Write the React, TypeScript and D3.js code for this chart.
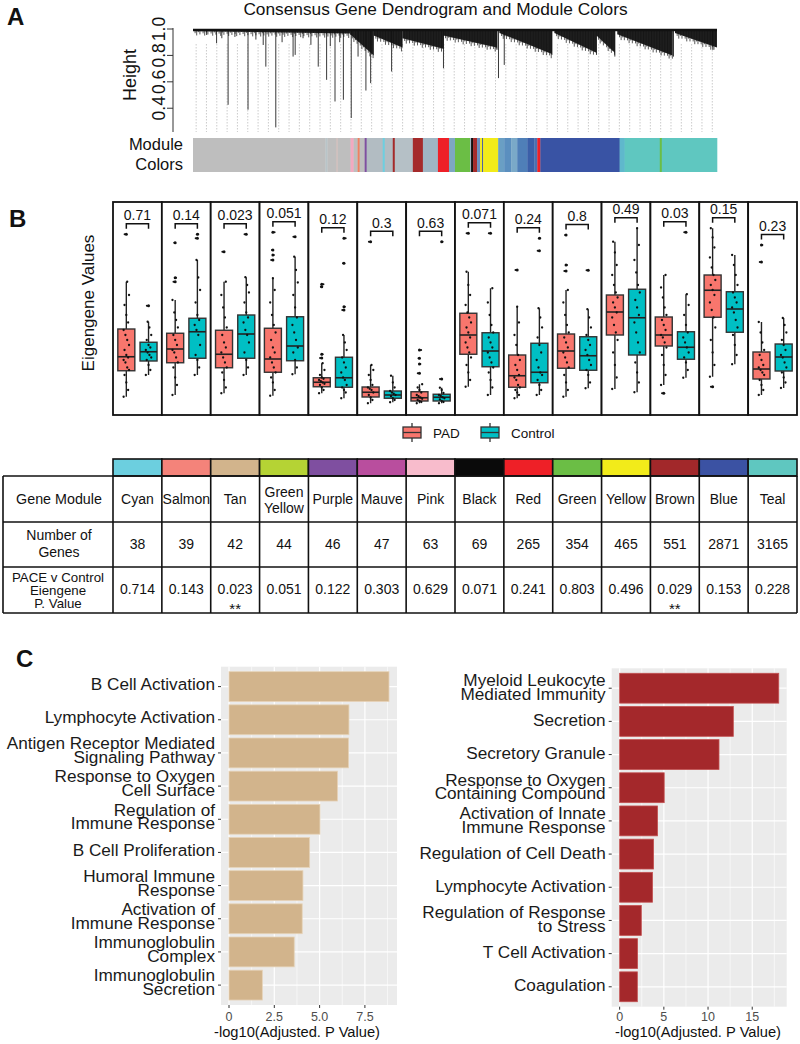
import React from "react";
import * as d3 from "d3";

const FONT = "'Liberation Sans', Arial, Helvetica, sans-serif";

// ---------------- Panel A data ----------------
const heightTicks = [0.4, 0.6, 0.8, 1.0];
// [leaf position in gene order (0..1), merge height]
const dendroDrops: [number, number][] = [
  [0.026, 0.955], [0.045, 0.892], [0.055, 0.93], [0.067, 0.426], [0.08, 0.94], [0.105, 0.389],
  [0.12, 0.92], [0.134, 0.879], [0.139, 0.715], [0.158, 0.255], [0.17, 0.9], [0.191, 0.791],
  [0.195, 0.804], [0.21, 0.93], [0.225, 0.88], [0.239, 0.715], [0.255, 0.615], [0.262, 0.87],
  [0.271, 0.451], [0.28, 0.9], [0.287, 0.464], [0.302, 0.326], [0.315, 0.791], [0.33, 0.534],
  [0.339, 0.59], [0.379, 0.678], [0.478, 0.703], [0.58, 0.842], [0.583, 0.628], [0.594, 0.728],
  [0.685, 0.804], [0.77, 0.804], [0.805, 0.791], [0.917, 0.791], [0.992, 0.842],
];
// dense sub-clusters: [start, end, height at start, height at end]
const dendroClusters: [number, number, number, number][] = [
  [0.0, 0.3, 0.985, 0.965],
  [0.3, 0.345, 0.96, 0.8],
  [0.345, 0.4, 0.95, 0.86],
  [0.4, 0.478, 0.93, 0.85],
  [0.478, 0.58, 0.95, 0.86],
  [0.585, 0.685, 0.97, 0.81],
  [0.69, 0.77, 0.97, 0.82],
  [0.77, 0.805, 0.95, 0.82],
  [0.81, 0.915, 0.96, 0.8],
  [0.92, 1.0, 0.97, 0.86],
];
// module colour strip along gene order: [colour, gene-order units]
const moduleStrip: [string, number][] = [
  ["#bebebe", 132], ["#b8c4c8", 2], ["#bebebe", 9], ["#d6b9b5", 1], ["#bebebe", 13],
  ["#f4a9c0", 3], ["#bebebe", 4], ["#f08060", 2], ["#bebebe", 5], ["#7f4fa0", 2],
  ["#b2bcc2", 16], ["#6dcfe0", 2], ["#b2bcc2", 8], ["#a52a2a", 2], ["#b5c0c6", 18],
  ["#a52a2a", 10], ["#9fb5c3", 15], ["#ee2027", 11], ["#7ea7c2", 6], ["#6bbe45", 15],
  ["#9fb5c3", 1], ["#111111", 2], ["#a52a2a", 4], ["#6a8fbf", 3], ["#f2eb1a", 2],
  ["#3b52a3", 1], ["#f2eb1a", 15], ["#6a9fc4", 6], ["#5b8fbf", 7], ["#7aa9c8", 6],
  ["#4f7fb8", 10], ["#3b5fa8", 7], ["#4a70b0", 3], ["#ee2027", 3], ["#3953a4", 79],
  ["#5fb8cc", 5], ["#5fc7c0", 35], ["#6bbe45", 2], ["#5fc7c0", 55],
];

// ---------------- Panel B / table data ----------------
const modules = ["Cyan", "Salmon", "Tan", "Green\nYellow", "Purple", "Mauve", "Pink", "Black", "Red", "Green", "Yellow", "Brown", "Blue", "Teal"];
const moduleColors = ["#6ccfdf", "#f4837a", "#d2b48c", "#b5d334", "#7f4fa0", "#b94e9e", "#f8bccc", "#0a0a0a", "#ee2027", "#6bbe45", "#f2eb1a", "#a2282a", "#3b52a3", "#5fc7c0"];
const geneCounts = [38, 39, 42, 44, 46, 47, 63, 69, 265, 354, 465, 551, 2871, 3165];
const tablePValues = ["0.714", "0.143", "0.023", "0.051", "0.122", "0.303", "0.629", "0.071", "0.241", "0.803", "0.496", "0.029", "0.153", "0.228"];
const significant = [false, false, true, false, false, false, false, false, false, false, false, true, false, false];
const bracketLabels = ["0.71", "0.14", "0.023", "0.051", "0.12", "0.3", "0.63", "0.071", "0.24", "0.8", "0.49", "0.03", "0.15", "0.23"];
const groups = ["PAD", "Control"];
const groupColors = ["#f8766d", "#00bfc4"];

// [lower whisker, Q1, median, Q3, upper whisker]
const padStats = [
  [-0.027, 0.077, 0.133, 0.244, 0.433],
  [-0.02, 0.109, 0.164, 0.227, 0.36],
  [-0.013, 0.089, 0.143, 0.239, 0.433],
  [-0.023, 0.071, 0.124, 0.247, 0.447],
  [-0.013, 0.013, 0.031, 0.049, 0.107],
  [-0.053, -0.028, -0.009, 0.012, 0.1],
  [-0.053, -0.044, -0.031, -0.007, 0.023],
  [0.013, 0.143, 0.22, 0.307, 0.473],
  [-0.033, 0.011, 0.057, 0.14, 0.333],
  [-0.027, 0.087, 0.156, 0.224, 0.4],
  [0.004, 0.22, 0.312, 0.38, 0.593],
  [0.02, 0.176, 0.22, 0.292, 0.46],
  [0.053, 0.291, 0.399, 0.46, 0.647],
  [-0.02, 0.044, 0.084, 0.152, 0.272],
];
const ctrlStats = [
  [0.06, 0.116, 0.153, 0.191, 0.273],
  [0.06, 0.127, 0.233, 0.287, 0.52],
  [0.06, 0.127, 0.224, 0.3, 0.451],
  [0.063, 0.117, 0.176, 0.293, 0.533],
  [-0.033, 0.011, 0.049, 0.131, 0.22],
  [-0.049, -0.033, -0.02, -0.004, 0.057],
  [-0.053, -0.044, -0.029, -0.017, 0.009],
  [-0.02, 0.093, 0.156, 0.229, 0.407],
  [-0.02, 0.029, 0.071, 0.187, 0.327],
  [0.007, 0.079, 0.137, 0.213, 0.323],
  [-0.009, 0.14, 0.289, 0.403, 0.647],
  [0.049, 0.123, 0.171, 0.233, 0.383],
  [0.103, 0.231, 0.324, 0.393, 0.54],
  [0.008, 0.076, 0.132, 0.184, 0.288],
];
const padOutliers = [
  [0.623], [0.433, 0.449, 0.589], [0.553], [0.52, 0.54, 0.56, 0.631], [0.128, 0.143, 0.413, 0.423],
  [0.593], [0.067, 0.104, 0.127, 0.16], [0.627], [0.48], [0.476, 0.5, 0.62], [], [-0.013], [0.013], [0.512, 0.58],
];
const ctrlOutliers = [
  [0.337], [0.607, 0.623], [0.623], [0.613], [0.32, 0.333, 0.507, 0.607], [], [0.044, 0.593], [0.627],
  [0.557, 0.607], [0.479], [], [0.631], [], [],
];
const padPoints = [
  [-0.027, 0.0, 0.03, 0.06, 0.08, 0.09, 0.11, 0.12, 0.13, 0.14, 0.16, 0.18, 0.2, 0.22, 0.24, 0.27, 0.3, 0.34, 0.38, 0.433],
  [-0.02, 0.02, 0.05, 0.09, 0.11, 0.13, 0.15, 0.16, 0.18, 0.2, 0.22, 0.25, 0.28, 0.31, 0.36],
  [-0.013, 0.01, 0.04, 0.07, 0.09, 0.11, 0.13, 0.15, 0.17, 0.19, 0.22, 0.25, 0.29, 0.33, 0.38, 0.433],
  [-0.023, 0.0, 0.03, 0.05, 0.07, 0.09, 0.11, 0.13, 0.15, 0.17, 0.2, 0.23, 0.26, 0.3, 0.35, 0.4, 0.447],
  [-0.013, 0.0, 0.01, 0.02, 0.025, 0.03, 0.035, 0.04, 0.045, 0.05, 0.06, 0.08, 0.107],
  [-0.053, -0.04, -0.03, -0.02, -0.01, 0.0, 0.005, 0.01, 0.02, 0.04, 0.06, 0.08, 0.1],
  [-0.053, -0.048, -0.044, -0.04, -0.035, -0.03, -0.025, -0.02, -0.01, 0.0, 0.01, 0.023],
  [0.013, 0.04, 0.07, 0.1, 0.13, 0.15, 0.17, 0.19, 0.21, 0.23, 0.25, 0.27, 0.29, 0.31, 0.34, 0.38, 0.42, 0.473],
  [-0.033, -0.02, -0.01, 0.0, 0.01, 0.02, 0.04, 0.05, 0.06, 0.08, 0.1, 0.12, 0.14, 0.18, 0.22, 0.27, 0.333],
  [-0.027, 0.0, 0.03, 0.06, 0.09, 0.11, 0.13, 0.15, 0.17, 0.19, 0.21, 0.23, 0.26, 0.3, 0.35, 0.4],
  [0.004, 0.05, 0.1, 0.15, 0.2, 0.23, 0.26, 0.29, 0.31, 0.33, 0.35, 0.37, 0.39, 0.42, 0.46, 0.5, 0.55, 0.593],
  [0.02, 0.06, 0.1, 0.14, 0.17, 0.19, 0.21, 0.22, 0.24, 0.26, 0.28, 0.3, 0.33, 0.37, 0.41, 0.46],
  [0.053, 0.1, 0.15, 0.2, 0.25, 0.29, 0.32, 0.35, 0.38, 0.4, 0.42, 0.44, 0.46, 0.49, 0.53, 0.57, 0.61, 0.647],
  [-0.02, 0.0, 0.02, 0.04, 0.06, 0.07, 0.08, 0.09, 0.1, 0.12, 0.14, 0.16, 0.19, 0.23, 0.272],
];
const ctrlPoints = [
  [0.06, 0.08, 0.1, 0.12, 0.13, 0.14, 0.15, 0.16, 0.17, 0.18, 0.2, 0.22, 0.25, 0.273],
  [0.06, 0.09, 0.12, 0.14, 0.18, 0.22, 0.24, 0.26, 0.28, 0.3, 0.35, 0.4, 0.45, 0.52],
  [0.06, 0.09, 0.12, 0.15, 0.19, 0.22, 0.24, 0.27, 0.29, 0.31, 0.35, 0.39, 0.42, 0.451],
  [0.063, 0.09, 0.12, 0.15, 0.17, 0.2, 0.23, 0.26, 0.29, 0.33, 0.38, 0.43, 0.48, 0.533],
  [-0.033, -0.01, 0.0, 0.01, 0.02, 0.04, 0.05, 0.07, 0.09, 0.11, 0.13, 0.16, 0.19, 0.22],
  [-0.049, -0.04, -0.033, -0.025, -0.02, -0.015, -0.01, -0.004, 0.01, 0.03, 0.057],
  [-0.053, -0.048, -0.044, -0.038, -0.033, -0.029, -0.024, -0.02, -0.012, 0.0, 0.009],
  [-0.02, 0.01, 0.04, 0.07, 0.09, 0.11, 0.13, 0.15, 0.17, 0.19, 0.21, 0.23, 0.26, 0.3, 0.35, 0.407],
  [-0.02, 0.0, 0.02, 0.04, 0.06, 0.07, 0.09, 0.12, 0.15, 0.18, 0.21, 0.25, 0.29, 0.327],
  [0.007, 0.03, 0.06, 0.08, 0.1, 0.12, 0.14, 0.16, 0.18, 0.2, 0.22, 0.25, 0.29, 0.323],
  [-0.009, 0.03, 0.07, 0.11, 0.15, 0.19, 0.23, 0.27, 0.3, 0.33, 0.36, 0.39, 0.42, 0.47, 0.52, 0.58, 0.647],
  [0.049, 0.08, 0.11, 0.13, 0.15, 0.17, 0.19, 0.21, 0.23, 0.26, 0.3, 0.34, 0.383],
  [0.103, 0.14, 0.18, 0.22, 0.25, 0.28, 0.31, 0.33, 0.35, 0.37, 0.39, 0.42, 0.46, 0.5, 0.54],
  [0.008, 0.03, 0.05, 0.07, 0.09, 0.11, 0.13, 0.14, 0.16, 0.18, 0.2, 0.23, 0.26, 0.288],
];

// ---------------- Panel C data ----------------
const tanTerms = [
  "B Cell Activation", "Lymphocyte Activation", "Antigen Receptor Mediated\nSignaling Pathway",
  "Response to Oxygen\nCell Surface", "Regulation of\nImmune Response", "B Cell Proliferation",
  "Humoral Immune\nResponse", "Activation of\nImmune Response", "Immunoglobulin\nComplex", "Immunoglobulin\nSecretion",
];
const tanValues = [8.83, 6.62, 6.6, 5.99, 5.02, 4.45, 4.08, 4.04, 3.6, 1.84];
const tanTicks = [0, 2.5, 5, 7.5];
const tanTickLabels = ["0", "2.5", "5.0", "7.5"];
const brownTerms = [
  "Myeloid Leukocyte\nMediated Immunity", "Secretion", "Secretory Granule",
  "Response to Oxygen\nContaining Compound", "Activation of Innate\nImmune Response", "Regulation of Cell Death",
  "Lymphocyte Activation", "Regulation of Response\nto Stress", "T Cell Activation", "Coagulation",
];
const brownValues = [18.0, 12.86, 11.24, 5.04, 4.29, 3.84, 3.72, 2.45, 2.03, 2.0];
const brownTicks = [0, 5, 10, 15];
const brownTickLabels = ["0", "5", "10", "15"];

// ======================================================
function PanelLabel({ x, y, t }: { x: number; y: number; t: string }) {
  return (
    <text x={x} y={y} fontSize={24} fontWeight="bold" fill="#111">
      {t}
    </text>
  );
}

function PanelA() {
  const xD = d3.scaleLinear().domain([0, 1]).range([193, 717]);
  const yD = d3.scaleLinear().domain([0.22, 1.0]).range([132, 29]);
  const total = d3.sum(moduleStrip, (d) => d[1]);
  const xS = d3.scaleLinear().domain([0, total]).range([193, 717]);
  let acc = 0;
  const segs = moduleStrip.map(([c, w]) => {
    const s = acc;
    acc += w;
    return { c, x0: xS(s), x1: xS(acc) };
  });
  const guides = d3.range(0.006, 1, 0.0197);
  return (
    <g>
      <PanelLabel x={7} y={25} t="A" />
      <text x={435.5} y={15} fontSize={17.3} textAnchor="middle" fill="#111">
        Consensus Gene Dendrogram and Module Colors
      </text>
      {guides.map((g, i) => (
        <line key={i} x1={xD(g)} x2={xD(g)} y1={44} y2={132} stroke="#b5b5b5" strokeWidth={0.7} strokeDasharray="1.5,1.5" />
      ))}
      <line x1={173} x2={173} y1={28} y2={132} stroke="#333" strokeWidth={1} />
      {heightTicks.map((t) => (
        <g key={t}>
          <line x1={167} x2={173} y1={yD(t)} y2={yD(t)} stroke="#333" strokeWidth={1} />
          <text transform={`translate(165,${yD(t)}) rotate(-90)`} fontSize={17.5} textAnchor="middle" fill="#111">
            {t.toFixed(1)}
          </text>
        </g>
      ))}
      <text transform="translate(136,75) rotate(-90)" fontSize={18} textAnchor="middle" fill="#111">
        Height
      </text>
      {dendroDrops.map(([p, h], i) => (
        <line key={i} x1={xD(p)} x2={xD(p)} y1={yD(0.985)} y2={yD(h)} stroke="#3a3a3a" strokeWidth={1} />
      ))}
      {dendroClusters.map(([s, e, hs, he], i) => {
        const x0 = xD(s), x1 = xD(e);
        const pts = [[x0, yD(1.0)], [x1, yD(1.0)], [x1, yD(he)], [x0, yD(hs)]];
        const xs = d3.range(x0 + 0.5, x1, 1.6);
        return (
          <g key={i}>
            <polygon points={pts.map((p) => p.join(",")).join(" ")} fill="#111" opacity={0.92} />
            {xs.map((px, k) => {
              const t = (px - x0) / (x1 - x0);
              const yb = yD(hs + (he - hs) * t) + ((k * 7) % 5) * 1.1;
              return <line key={k} x1={px} x2={px} y1={yD(1.0)} y2={yb} stroke="#111" strokeWidth={0.7} />;
            })}
          </g>
        );
      })}
      <line x1={193} x2={717} y1={yD(1.0) + 1} y2={yD(1.0) + 1} stroke="#111" strokeWidth={2.5} />
      {segs.map((s, i) => (
        <rect key={i} x={s.x0} y={138} width={Math.max(0, s.x1 - s.x0) + 0.3} height={34} fill={s.c} />
      ))}
      <text x={183} y={150} fontSize={16.5} textAnchor="end" fill="#111">Module</text>
      <text x={183} y={170} fontSize={16.5} textAnchor="end" fill="#111">Colors</text>
    </g>
  );
}

function BoxGroup({ cx, stats, outs, pts, color, yB }: any) {
  const [wl, q1, med, q3, wh] = stats;
  const bw = 17;
  return (
    <g>
      <line x1={cx} x2={cx} y1={yB(wl)} y2={yB(q1)} stroke="#222" strokeWidth={1.4} />
      <line x1={cx} x2={cx} y1={yB(q3)} y2={yB(wh)} stroke="#222" strokeWidth={1.4} />
      <rect x={cx - bw / 2} y={yB(q3)} width={bw} height={yB(q1) - yB(q3)} fill={color} stroke="#333" strokeWidth={1.4} />
      <line x1={cx - bw / 2} x2={cx + bw / 2} y1={yB(med)} y2={yB(med)} stroke="#222" strokeWidth={1.6} />
      {outs.map((v: number, i: number) => (
        <circle key={"o" + i} cx={cx} cy={yB(v)} r={1.5} fill="#111" />
      ))}
      {pts.map((v: number, i: number) => (
        <circle key={"p" + i} cx={cx + (((i * 5) % 7) - 3) * 0.9} cy={yB(v)} r={1.15} fill="#111" />
      ))}
      {outs.map((v: number, i: number) => (
        <circle key={"j" + i} cx={cx + (((i * 3) % 5) - 2) * 0.8} cy={yB(v)} r={1.1} fill="#111" />
      ))}
    </g>
  );
}

function PanelB() {
  const xF = d3.scaleBand<string>().domain(modules).range([113, 797]).padding(0);
  const xG = d3.scalePoint<string>().domain(groups).range([0, xF.bandwidth()]).padding(0.6);
  const yB = d3.scaleLinear().domain([-0.1, 0.752]).range([415, 202]);
  return (
    <g>
      <PanelLabel x={9} y={227} t="B" />
      <text transform="translate(94,303) rotate(-90)" fontSize={17} textAnchor="middle" fill="#111">
        Eigengene Values
      </text>
      {modules.map((m, i) => {
        const x0 = xF(m)!;
        const cP = x0 + xG("PAD")!;
        const cC = x0 + xG("Control")!;
        const top = Math.max(padStats[i][4], ctrlStats[i][4], ...padOutliers[i], ...ctrlOutliers[i]);
        const by = yB(top) - 10.5;
        return (
          <g key={m}>
            <rect x={x0} y={202} width={xF.bandwidth()} height={213} fill="#fff" stroke="#111" strokeWidth={1.8} />
            <BoxGroup cx={cP} stats={padStats[i]} outs={padOutliers[i]} pts={padPoints[i]} color={groupColors[0]} yB={yB} />
            <BoxGroup cx={cC} stats={ctrlStats[i]} outs={ctrlOutliers[i]} pts={ctrlPoints[i]} color={groupColors[1]} yB={yB} />
            <path d={`M${cP},${by + 5}V${by}H${cC}V${by + 5}`} fill="none" stroke="#111" strokeWidth={1.5} />
            <text x={(cP + cC) / 2} y={by - 3.5} fontSize={14} textAnchor="middle" fill="#111">
              {bracketLabels[i]}
            </text>
          </g>
        );
      })}
      {groups.map((g, i) => {
        const kx = i === 0 ? 402 : 480;
        return (
          <g key={g}>
            <line x1={kx + 10} x2={kx + 10} y1={423} y2={442} stroke="#333" strokeWidth={1.3} />
            <rect x={kx + 1} y={427} width={18} height={11} fill={groupColors[i]} stroke="#333" strokeWidth={1.3} />
            <line x1={kx + 1} x2={kx + 19} y1={432.5} y2={432.5} stroke="#333" strokeWidth={1.3} />
            <text x={kx + 31} y={437.5} fontSize={13.5} fill="#111">{g}</text>
          </g>
        );
      })}
    </g>
  );
}

function Table() {
  const xF = d3.scaleBand<string>().domain(modules).range([113, 797]).padding(0);
  const rows = [476, 522, 567, 613];
  const sw = 1.6;
  return (
    <g fontSize={14} fill="#111">
      {modules.map((m, i) => (
        <rect key={m} x={xF(m)} y={459} width={xF.bandwidth()} height={17} fill={moduleColors[i]} stroke="#111" strokeWidth={sw} />
      ))}
      {rows.map((r) => (
        <line key={r} x1={3} x2={797} y1={r} y2={r} stroke="#111" strokeWidth={sw} />
      ))}
      <line x1={3} x2={3} y1={476} y2={613} stroke="#111" strokeWidth={sw} />
      {modules.map((m) => (
        <line key={m} x1={xF(m)} x2={xF(m)} y1={476} y2={613} stroke="#111" strokeWidth={sw} />
      ))}
      <line x1={797} x2={797} y1={476} y2={613} stroke="#111" strokeWidth={sw} />
      <text x={59} y={503.5} fontSize={14.3} textAnchor="middle">Gene Module</text>
      <text x={59} y={540} fontSize={14} textAnchor="middle">Number of</text>
      <text x={59} y={557} fontSize={14} textAnchor="middle">Genes</text>
      <text x={58} y={582} fontSize={13.3} textAnchor="middle">PACE v Control</text>
      <text x={58} y={595} fontSize={13.3} textAnchor="middle">Eiengene</text>
      <text x={58} y={608} fontSize={13.3} textAnchor="middle">P. Value</text>
      {modules.map((m, i) => {
        const cx = xF(m)! + xF.bandwidth() / 2;
        const lines = m.split("\n");
        return (
          <g key={m}>
            {lines.map((l, k) => (
              <text key={k} x={cx} y={lines.length === 1 ? 503.5 : 496.5 + k * 16} textAnchor="middle" fontSize={14}>
                {l}
              </text>
            ))}
            <text x={cx} y={549} textAnchor="middle" fontSize={14}>{geneCounts[i]}</text>
            <text x={cx} y={594} textAnchor="middle" fontSize={14}>{tablePValues[i]}</text>
            {significant[i] && (
              <text x={cx} y={614} textAnchor="middle" fontSize={15}>**</text>
            )}
          </g>
        );
      })}
    </g>
  );
}

function BarChart({ terms, values, ticks, tickLabels, color, stroke, left, right, top, bottom, shift, titleX }: any) {
  const max = d3.max(values as number[])!;
  const x = d3.scaleLinear().domain([-max * 0.05, max * 1.05]).range([left, right]);
  const y = d3.scaleBand<string>().domain(terms).range([top, bottom]).paddingInner(0.1).paddingOuter(0.15);
  const step = ticks[1] - ticks[0];
  const minor = d3.range(step / 2, max * 1.05, step);
  return (
    <g>
      <rect x={left} y={top} width={right - left} height={bottom - top} fill="#ebebeb" />
      {minor.map((m: number) => (
        <line key={"mi" + m} x1={x(m)} x2={x(m)} y1={top} y2={bottom} stroke="#fff" strokeWidth={0.6} />
      ))}
      {ticks.map((t: number) => (
        <line key={"ma" + t} x1={x(t)} x2={x(t)} y1={top} y2={bottom} stroke="#fff" strokeWidth={1.2} />
      ))}
      {terms.map((t: string) => (
        <line key={"h" + t} x1={left} x2={right} y1={y(t)! + y.bandwidth() / 2} y2={y(t)! + y.bandwidth() / 2} stroke="#fff" strokeWidth={1.2} />
      ))}
      {terms.map((t: string, i: number) => (
        <rect key={"b" + t} x={x(0)} y={y(t)} width={x(values[i]) - x(0)} height={y.bandwidth()} fill={color} stroke={stroke} strokeWidth={0.8} />
      ))}
      {terms.map((t: string) => {
        const cy = y(t)! + y.bandwidth() / 2;
        const lines = t.split("\n");
        return (
          <g key={"l" + t}>
            <line x1={left - 3} x2={left} y1={cy} y2={cy} stroke="#333" strokeWidth={1} />
            {lines.map((l, k) => (
              <text key={k} x={left - 6} y={cy + 3.2 + shift + (k - (lines.length - 1) / 2) * 13.8} fontSize={17.2} textAnchor="end" fill="#1a1a1a">
                {l}
              </text>
            ))}
          </g>
        );
      })}
      {ticks.map((t: number, i: number) => (
        <g key={"t" + t}>
          <line x1={x(t)} x2={x(t)} y1={bottom} y2={bottom + 3} stroke="#333" strokeWidth={1} />
          <text x={x(t)} y={1021} fontSize={12.5} textAnchor="middle" fill="#4d4d4d">{tickLabels[i]}</text>
        </g>
      ))}
      <text x={titleX} y={1037} fontSize={14.7} textAnchor="middle" fill="#111">
        -log10(Adjusted. P Value)
      </text>
    </g>
  );
}

function PanelC() {
  return (
    <g>
      <PanelLabel x={16} y={667} t="C" />
      <BarChart terms={tanTerms} values={tanValues} ticks={tanTicks} tickLabels={tanTickLabels} color="#d2b48c" stroke="#e6d3b8" left={221} right={397} top={666.7} bottom={1005} shift={0} titleX={297} />
      <BarChart terms={brownTerms} values={brownValues} ticks={brownTicks} tickLabels={brownTickLabels} color="#a4282b" stroke="#c25050" left={611.7} right={786.7} top={668.3} bottom={1006.7} shift={1.5} titleX={698} />
    </g>
  );
}

export default function App() {
  return (
    <svg width={800} height={1044} style={{ position: "absolute", left: 0, top: 0, background: "#fff" }} fontFamily={FONT}>
      <rect width={800} height={1044} fill="#fff" />
      <PanelA />
      <PanelB />
      <Table />
      <PanelC />
    </svg>
  );
}
